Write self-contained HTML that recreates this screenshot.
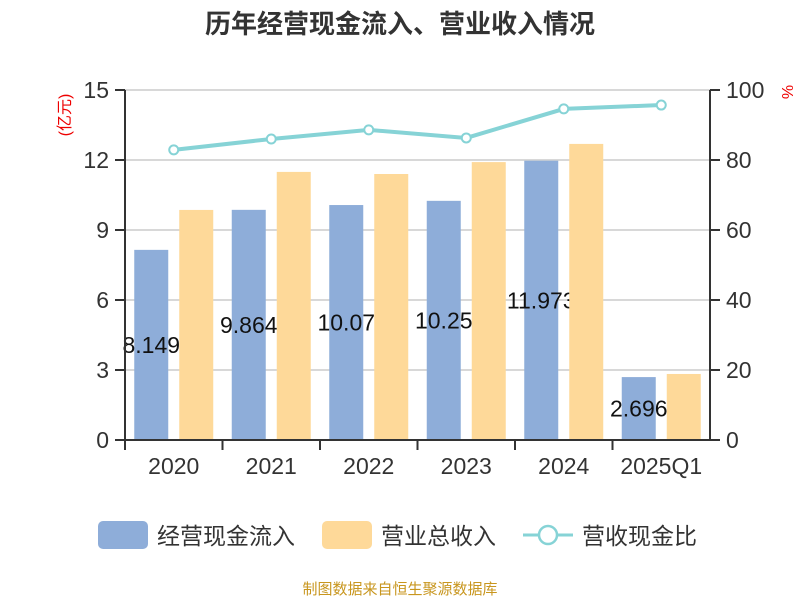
<!DOCTYPE html>
<html><head><meta charset="utf-8"><style>
body{margin:0;background:#fff;font-family:"Liberation Sans","Noto Sans CJK SC",sans-serif}
</style></head><body>
<svg id="c" width="800" height="600" xmlns="http://www.w3.org/2000/svg" style="font-family:'Liberation Sans','Noto Sans CJK SC',sans-serif">
<text x="400" y="33" text-anchor="middle" font-size="26" font-weight="bold" fill="#333">历年经营现金流入、营业收入情况</text>
<text transform="translate(70,115) rotate(-90)" text-anchor="middle" font-size="16" fill="#e00">(亿元)</text>
<text transform="translate(782,92) rotate(90)" text-anchor="middle" font-size="16" fill="#e00">%</text>
<g id="grid"></g><g id="bars"></g><g id="axes"></g>
<g>
<rect x="98" y="521" width="50" height="28" rx="5" fill="#8eadd9"/>
<text x="157" y="544" font-size="23" fill="#333">经营现金流入</text>
<rect x="322" y="521" width="50" height="28" rx="5" fill="#fed999"/>
<text x="381" y="544" font-size="23" fill="#333">营业总收入</text>
<line x1="523" y1="535" x2="573" y2="535" stroke="#86d3d6" stroke-width="3"/>
<circle cx="548" cy="535" r="9" fill="#fff" stroke="#86d3d6" stroke-width="2.5"/>
<text x="582" y="544" font-size="23" fill="#333">营收现金比</text>
</g>
<text x="400" y="594" text-anchor="middle" font-size="15" fill="#c8961e">制图数据来自恒生聚源数据库</text>
</svg>
<script>
const categories=["2020","2021","2022","2023","2024","2025Q1"];
const cashIn=[8.149,9.864,10.07,10.25,11.97,2.696];
const cashLabels=["8.149","9.864","10.07","10.25","11.973","2.696"];
const revenue=[9.86,11.49,11.4,11.91,12.69,2.83];
const ratio=[82.9,86,88.6,86.3,94.6,95.7];
const leftTicks=[0,3,6,9,12,15];
const rightTicks=[0,20,40,60,80,100];
const NS="http://www.w3.org/2000/svg";
const X0=125,X1=710,Y0=440,Y1=90;
const yL=v=>Y0-(v/15)*(Y0-Y1);
const yR=v=>Y0-(v/100)*(Y0-Y1);
const bw=(X1-X0)/categories.length;
const xc=i=>X0+bw*(i+0.5);
function mk(t,a,p){const e=document.createElementNS(NS,t);for(const k in a)e.setAttribute(k,a[k]);p.appendChild(e);return e;}
const grid=document.getElementById('grid'),bars=document.getElementById('bars'),axes=document.getElementById('axes');
leftTicks.forEach((v,i)=>{
 if(v>0){const g=mk('line',{x1:X0,x2:X1,y1:yL(v),y2:yL(v),stroke:'#ccc','stroke-width':1.5},grid);
 }
 const tk=mk('line',{x1:X0-10,x2:X0,y1:yL(v),y2:yL(v),stroke:'#333','stroke-width':2},axes);
 
 const t=mk('text',{x:X0-16,y:yL(v)+8,'text-anchor':'end','font-size':23,fill:'#333'},axes);t.textContent=v;
 
});
rightTicks.forEach(v=>{
 const tk=mk('line',{x1:X1,x2:X1+10,y1:yR(v),y2:yR(v),stroke:'#333','stroke-width':2},axes);
 
 const t=mk('text',{x:X1+16,y:yR(v)+8,'font-size':23,fill:'#333'},axes);t.textContent=v;
 
});
let a=mk('line',{x1:X0,x2:X0,y1:Y1,y2:Y0,stroke:'#333','stroke-width':2},axes);
a=mk('line',{x1:X1,x2:X1,y1:Y1,y2:Y0,stroke:'#333','stroke-width':2},axes);
a=mk('line',{x1:X0,x2:X1,y1:Y0,y2:Y0,stroke:'#333','stroke-width':2},axes);
categories.forEach((c,i)=>{
 const tk=mk('line',{x1:X0+bw*i,x2:X0+bw*i,y1:Y0,y2:Y0+10,stroke:'#333','stroke-width':2},axes);
 
 const t=mk('text',{x:xc(i),y:Y0+34,'text-anchor':'middle','font-size':23,fill:'#333'},axes);t.textContent=c;
 
});
const w=34;
categories.forEach((c,i)=>{
 const r=mk('rect',{x:xc(i)-22.5-w/2,y:yL(cashIn[i]),width:w,height:Y0-yL(cashIn[i]),fill:'#8eadd9'},bars);
 
});
categories.forEach((c,i)=>{
 const t=mk('text',{x:xc(i)-22.5,y:(yL(cashIn[i])+Y0)/2+8,'text-anchor':'middle','font-size':23,fill:'#111'},bars);
 t.textContent=cashLabels[i];
});
categories.forEach((c,i)=>{
 const r=mk('rect',{x:xc(i)+22.5-w/2,y:yL(revenue[i]),width:w,height:Y0-yL(revenue[i]),fill:'#fed999'},bars);
 
});
const pl=mk('polyline',{points:ratio.map((v,i)=>xc(i)+','+yR(v)).join(' '),fill:'none',stroke:'#86d3d6','stroke-width':4},bars);

ratio.forEach((v,i)=>{
 const p=mk('circle',{cx:xc(i),cy:yR(v),r:4.5,fill:'#fff',stroke:'#86d3d6','stroke-width':2},bars);
 
});
</script>
</body></html>
